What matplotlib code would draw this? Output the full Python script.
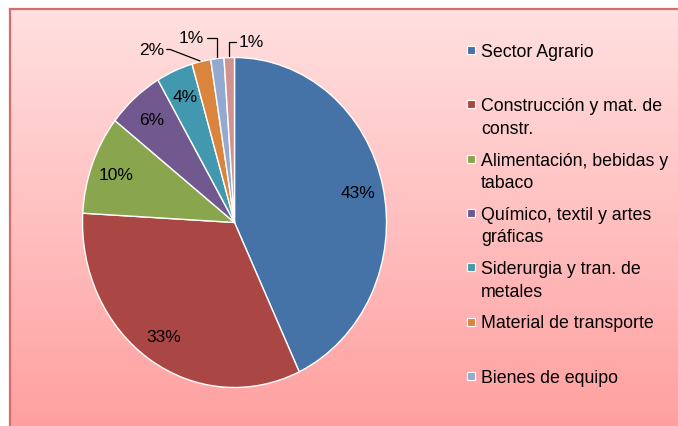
import matplotlib
matplotlib.use('Agg')
import matplotlib.pyplot as plt
import numpy as np
from matplotlib.colors import LinearSegmentedColormap
from matplotlib.patches import Rectangle

# данные
categories = ['Sector Agrario', 'Construcción y mat. de\nconstr.',
              'Alimentación, bebidas y\ntabaco', 'Químico, textil y artes\ngráficas',
              'Siderurgia y tran. de\nmetales', 'Material de transporte',
              'Bienes de equipo', 'Otros']
values = [43.0, 32.9, 9.7, 6.0, 3.9, 2.0, 1.4, 1.1]
colors = ['#4572A7', '#AA4643', '#89A54E', '#71588F', '#4198AF', '#DB843D', '#93A9CF', '#D19392']
legend_count = 7  # в оригинале легенда обрезана

plt.rcParams['font.family'] = ['Liberation Sans', 'DejaVu Sans']
plt.rcParams['font.size'] = 12

W, H = 678, 427
fig = plt.figure(figsize=(W / 100, H / 100), dpi=100)
fig.patch.set_facecolor('white')

# фон с градиентом
bg = fig.add_axes([10 / W, 0, (W - 10) / W, (H - 10) / H])
cmap = LinearSegmentedColormap.from_list('bg', ['#FFE0E0', '#FFA0A0'])
bg.imshow(np.linspace(0, 1, 256).reshape(-1, 1), cmap=cmap, aspect='auto',
          extent=[0, 1, 0, 1])
bg.set_xticks([])
bg.set_yticks([])
for side in ['bottom', 'right']:
    bg.spines[side].set_visible(False)
for side in ['top', 'left']:
    bg.spines[side].set_color('#D96B6B')
    bg.spines[side].set_linewidth(1.6)

# круговая диаграмма (слегка вытянута по вертикали, как в оригинале)
cx, cy, rx, ry = 234.5, 223.5, 152, 165
lim = 1.1
ax = fig.add_axes([(cx - rx * lim) / W, (H - cy - ry * lim) / H,
                   2 * rx * lim / W, 2 * ry * lim / H])
ax.patch.set_alpha(0)
wedges, _ = ax.pie(values, colors=colors, startangle=90, counterclock=False,
                   wedgeprops=dict(edgecolor='white', linewidth=1.0))
ax.set_aspect('auto')
ax.set_xlim(-lim, lim)
ax.set_ylim(-lim, lim)
ax.axis('off')

# смещения подписей для маленьких секторов (в пикселях)
outside = {5: ((-50, 12), 159), 6: ((-26, 21), 90), 7: ((22, 16), 90)}
px = 72 / 100
for i, (w, v) in enumerate(zip(wedges, values)):
    ang = np.deg2rad((w.theta1 + w.theta2) / 2)
    label = f'{v:.0f}%'
    if i in outside:
        (dx, dy), angB = outside[i]
        ax.annotate(label, xy=(np.cos(ang), np.sin(ang)),
                    xytext=(dx * px, dy * px), textcoords='offset points',
                    ha='center', va='center', fontsize=12.5,
                    arrowprops=dict(arrowstyle='-', color='black', lw=0.9,
                                    shrinkA=0, shrinkB=1,
                                    connectionstyle=f'angle,angleA=0,angleB={angB},rad=0'))
    else:
        ax.text(0.83 * np.cos(ang), 0.83 * np.sin(ang), label,
                ha='center', va='center', fontsize=12.5)

# легенда вручную: маркер по первой строке, строки по отдельности
y0, step, line_h = 51, 54.3, 22.5
for i in range(legend_count):
    yc = y0 + i * step
    fig.patches.append(Rectangle((467 / W, (H - yc - 4) / H), 8 / W, 8 / H,
                                 transform=fig.transFigure, facecolor=colors[i],
                                 edgecolor='white', linewidth=0.8))
    for k, line in enumerate(categories[i].split('\n')):
        fig.text(481 / W, (H - yc - 6 - k * line_h) / H, line, ha='left',
                 va='baseline', fontsize=12.8, color='black')

fig.savefig('out.png', dpi=100)
